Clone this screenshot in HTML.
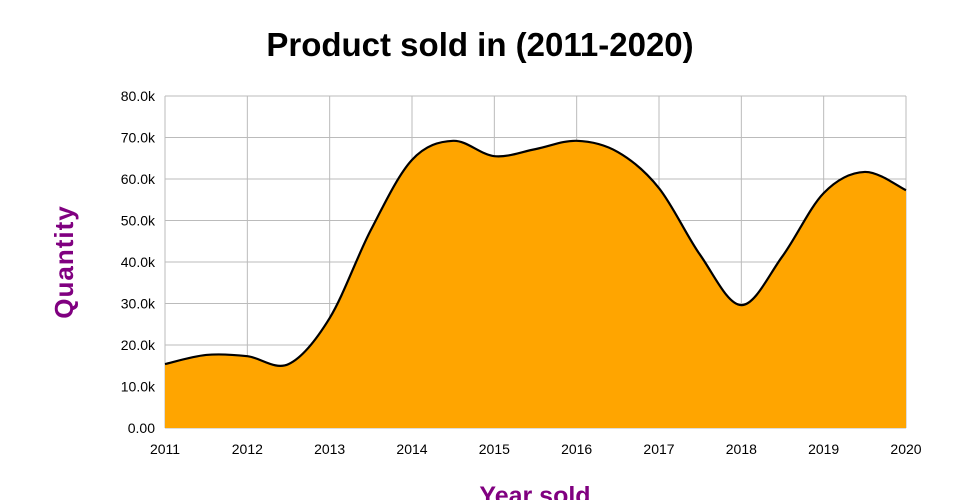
<!DOCTYPE html>
<html><head><meta charset="utf-8"><style>
body{margin:0;background:#fff;width:960px;height:500px;overflow:hidden}
svg{display:block;font-family:"Liberation Sans",sans-serif}
</style></head><body>
<svg id="chart" width="960" height="500">
<text x="480" y="56" text-anchor="middle" font-size="33" font-weight="bold" fill="#000">Product sold in (2011-2020)</text>
<text transform="translate(73,262) rotate(-90)" text-anchor="middle" font-size="26" font-weight="bold" letter-spacing="1" fill="#800080">Quantity</text>
<text x="535" y="504" text-anchor="middle" font-size="25" font-weight="bold" fill="#800080">Year sold</text>
<g id="grid"></g><g id="area"></g><g id="labels"></g>
</svg>
<script>
const years=["2011","2012","2013","2014","2015","2016","2017","2018","2019","2020"];
const sampleX=[2011,2011.5,2012,2012.5,2013,2013.5,2014,2014.5,2015,2015.5,2016,2016.5,2017,2017.5,2018,2018.5,2019,2019.5,2020];
const quantity=[15.4,17.6,17.3,15.4,26.5,47.7,64.6,69.2,65.5,67.2,69.2,66.5,57.8,41.7,29.6,41.4,56.6,61.7,57.3];
const yTicks=[0,10,20,30,40,50,60,70,80];
const yTickLabels=["0.00","10.0k","20.0k","30.0k","40.0k","50.0k","60.0k","70.0k","80.0k"];
const NS="http://www.w3.org/2000/svg";
const X0=165,X1=906,Y0=428,Y1=96;
const sx=v=>X0+(v-2011)/9*(X1-X0);
const sy=v=>Y0-v/80*(Y0-Y1);
function mk(tag,attrs,parent){const e=document.createElementNS(NS,tag);for(const k in attrs)e.setAttribute(k,attrs[k]);parent.appendChild(e);return e;}
const grid=document.getElementById('grid'),labels=document.getElementById('labels'),area=document.getElementById('area');
yTicks.forEach((t,i)=>{
 const l=mk('line',{x1:X0,x2:X1,y1:sy(t),y2:sy(t),stroke:'#bbb','stroke-width':1},grid);
 
 
 const tx=mk('text',{x:X0-10,y:sy(t)+5,'text-anchor':'end','font-size':14,fill:'#000'},labels);
 tx.textContent=yTickLabels[i];
 
 
});
years.forEach(y=>{
 const x=sx(+y);
 const l=mk('line',{x1:x,x2:x,y1:Y1,y2:Y0,stroke:'#bbb','stroke-width':1},grid);
 
 
 const tx=mk('text',{x:x,y:Y0+26,'text-anchor':'middle','font-size':14,fill:'#000'},labels);
 tx.textContent=y;
 
 
});
const pts=sampleX.map((x,i)=>[sx(x),sy(quantity[i])]);
let d=`M${pts[0][0]},${pts[0][1]}`;
for(let i=0;i<pts.length-1;i++){
 const p0=pts[Math.max(0,i-1)],p1=pts[i],p2=pts[i+1],p3=pts[Math.min(pts.length-1,i+2)];
 const c1=[p1[0]+(p2[0]-p0[0])/6,p1[1]+(p2[1]-p0[1])/6],c2=[p2[0]-(p3[0]-p1[0])/6,p2[1]-(p3[1]-p1[1])/6];
 d+=`C${c1[0]},${c1[1]} ${c2[0]},${c2[1]} ${p2[0]},${p2[1]}`;
}
const fill=mk('path',{d:d+`L${X1},${Y0}L${X0},${Y0}Z`,fill:'#ffa500'},area);


const line=mk('path',{d:d,fill:'none',stroke:'#000','stroke-width':2.2},area);


</script>
</body></html>
